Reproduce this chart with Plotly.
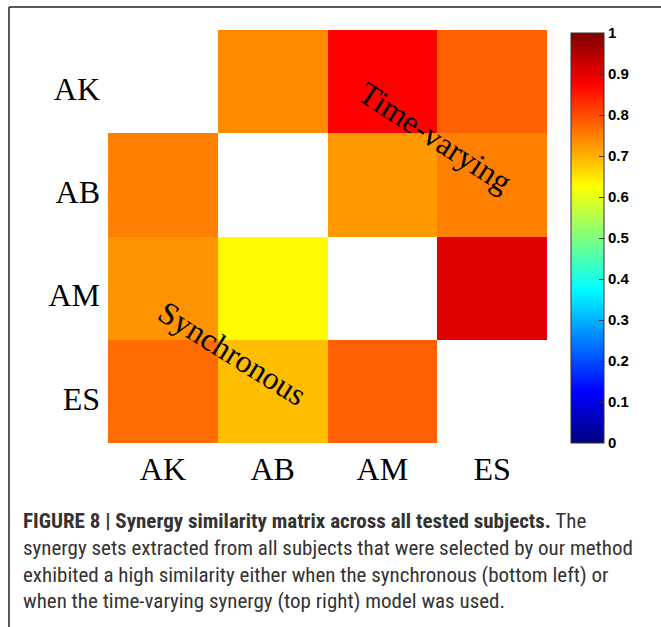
import plotly.graph_objects as go

subjects = ["AK", "AB", "AM", "ES"]
# rows = y subjects (top to bottom), cols = x subjects; diagonal not defined
similarity = [
    [None, 0.74, 0.875, 0.78],
    [0.75, None, 0.725, 0.75],
    [0.73, 0.63, None, 0.905],
    [0.77, 0.69, 0.78, None],
]
cbar_ticks = [0, 0.1, 0.2, 0.3, 0.4, 0.5, 0.6, 0.7, 0.8, 0.9, 1]
cbar_ticklabels = ["0", "0.1", "0.2", "0.3", "0.4", "0.5", "0.6", "0.7", "0.8", "0.9", "1"]

jet = [
    [0.0, "rgb(0,0,128)"],
    [0.125, "rgb(0,0,255)"],
    [0.375, "rgb(0,255,255)"],
    [0.625, "rgb(255,255,0)"],
    [0.875, "rgb(255,0,0)"],
    [1.0, "rgb(128,0,0)"],
]

W, H = 661, 627
def px(x):
    return x / W
def py(y):
    return 1 - y / H

fig = go.Figure()
fig.add_trace(go.Heatmap(
    z=similarity, x=subjects, y=subjects,
    colorscale=jet, zmin=0, zmax=1, xgap=0, ygap=0,
    hoverongaps=False,
    colorbar=dict(
        x=px(571), xanchor="left", xpad=0, ypad=0,
        y=py(238), yanchor="middle",
        thickness=33, thicknessmode="pixels",
        len=410, lenmode="pixels",
        outlinewidth=1, outlinecolor="#333",
        tickvals=cbar_ticks, ticktext=cbar_ticklabels,
        ticks="inside", ticklen=5, tickcolor="#333",
        tickfont=dict(family="Liberation Sans", size=15, color="#000", weight="bold"),
    ),
))

fig.update_xaxes(
    domain=[px(108), px(547)], showgrid=False, zeroline=False,
    tickfont=dict(family="Liberation Serif", size=32, color="#000"),
    ticks="", showline=False, ticklabelstandoff=4,
)
fig.update_yaxes(
    domain=[py(443), py(30)], autorange="reversed", showgrid=False, zeroline=False,
    tickfont=dict(family="Liberation Serif", size=32, color="#000"),
    ticks="", showline=False, ticklabelstandoff=7, ticklabelshift=-7,
)

annotations = [
    dict(text="Time-varying", x=px(435), y=py(137), xref="paper", yref="paper",
         xanchor="center", yanchor="middle",
         textangle=33, showarrow=False,
         font=dict(family="Liberation Serif", size=32, color="#000")),
    dict(text="Synchronous", x=px(232), y=py(353), xref="paper", yref="paper",
         xanchor="center", yanchor="middle",
         textangle=32, showarrow=False,
         font=dict(family="Liberation Serif", size=32, color="#000")),
]
caption_lines = [
    "<b>FIGURE 8 | Synergy similarity matrix across all tested subjects.</b> The",
    "synergy sets extracted from all subjects that were selected by our method",
    "exhibited a high similarity either when the synchronous (bottom left) or",
    "when the time-varying synergy (top right) model was used.",
]
caption_y = [521, 548, 575, 601]
for line, yy in zip(caption_lines, caption_y):
    annotations.append(dict(
        text=line, x=px(21), y=py(yy), xref="paper", yref="paper",
        xanchor="left", yanchor="middle", showarrow=False, align="left",
        font=dict(family="Liberation Sans Narrow, Roboto Condensed, Liberation Sans", size=21, color="#333"),
    ))

shapes = [
    dict(type="line", xref="paper", yref="paper", x0=px(9), y0=0, x1=px(9), y1=py(7),
         line=dict(color="#222", width=1.5)),
    dict(type="line", xref="paper", yref="paper", x0=px(9), y0=py(7), x1=1, y1=py(7),
         line=dict(color="#222", width=1.5)),
]

fig.update_layout(
    width=W, height=H,
    margin=dict(l=0, r=0, t=0, b=0),
    paper_bgcolor="white", plot_bgcolor="white",
    annotations=annotations, shapes=shapes,
    showlegend=False,
)

fig.write_html("out.html")
